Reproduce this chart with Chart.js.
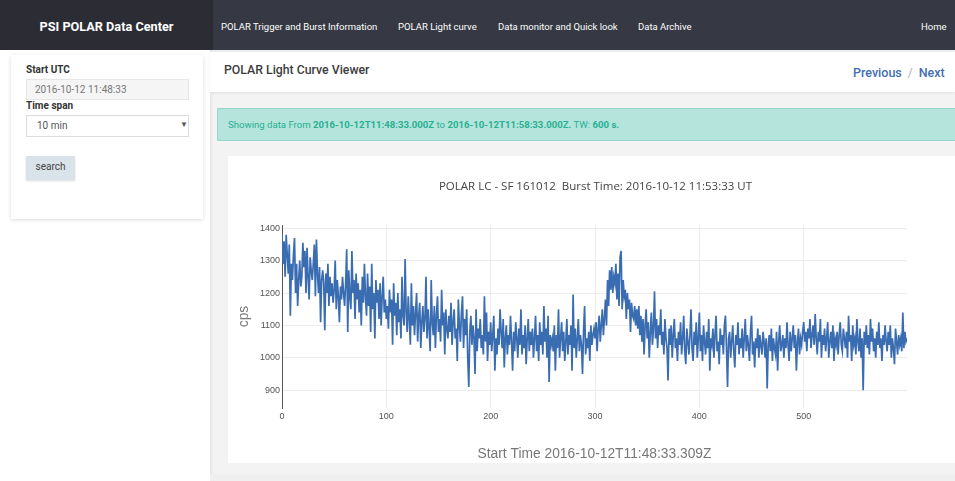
<!DOCTYPE html>
<html>
<head>
<meta charset="utf-8">
<script src="https://cdn.jsdelivr.net/npm/chart.js@4.4.1/dist/chart.umd.min.js"></script>
<style>
  html,body{margin:0;padding:0;}
  body{width:955px;height:481px;overflow:hidden;position:relative;background:#fff;font-family:Roboto,"Open Sans",sans-serif;}
  .abs{position:absolute;}
  #nav{left:0;top:0;width:955px;height:50px;background:#363943;}
  #brand{left:0;top:0;width:213px;height:50px;background:#2b2c34;color:#fff;font-weight:700;font-size:12.7px;line-height:53px;text-align:center;}
  .nl{top:0;line-height:54px;color:#fff;font-size:9.5px;white-space:nowrap;}
  #main{left:210px;top:50px;width:745px;height:431px;background:#f3f3f3;box-shadow:inset 2px 0 3px rgba(0,0,0,0.06);}
  #hdr{left:210px;top:52px;width:745px;height:40px;background:#fff;box-shadow:0 1px 3px rgba(0,0,0,0.08);}
  #hdrt{left:224px;top:63px;font-size:12.3px;color:#3c3c3c;font-weight:500;}
  #pn{left:853px;top:65px;font-size:12.5px;color:#3f6eb3;font-weight:500;white-space:nowrap;}
  #pn span{color:#bbb;margin:0 6px;}
  #alert{left:217px;top:108px;width:738px;height:33px;background:#b4e4dc;border:1px solid #94d6c9;box-sizing:border-box;border-right:none;border-radius:2px 0 0 2px;}
  #alertt{left:228px;top:119px;font-size:9.6px;color:#27b092;white-space:nowrap;}
  #alertt b{font-weight:700;}
  #card{left:228px;top:156px;width:727px;height:307px;background:#fff;}
  #side{left:11px;top:55px;width:192px;height:164px;background:#fff;box-shadow:0 1px 4px rgba(0,0,0,0.15);}
  .lbl{font-size:10px;font-weight:700;color:#333;}
  #inp{left:26px;top:79px;width:163px;height:21px;background:#f5f5f5;border:1px solid #e6e6e6;box-sizing:border-box;font-size:10px;color:#777;line-height:19px;padding-left:8px;}
  #sel{left:26px;top:115px;width:163px;height:22px;background:#fff;border:1px solid #ddd;box-sizing:border-box;font-size:10px;color:#555;line-height:20px;padding-left:10px;}
  #arr{left:180px;top:120px;font-size:8px;color:#555;}
  #btn{left:26px;top:156px;width:49px;height:24px;background:#d8e3ea;font-size:10px;color:#444;line-height:22px;text-align:center;box-shadow:0 1px 2px rgba(0,0,0,0.15);}
  #ctitle{left:228px;top:178px;width:735px;text-align:center;font-family:"Open Sans",sans-serif;font-size:11.5px;color:#444;white-space:pre;}
  #cv{left:228px;top:156px;}
  #bot{left:210px;top:474px;width:745px;height:7px;background:#f0f0f0;}
</style>
</head>
<body>
<div id="main" class="abs"></div>
<div id="nav" class="abs"></div>
<div id="brand" class="abs">PSI POLAR Data Center</div>
<div class="abs nl" style="left:221px">POLAR Trigger and Burst Information</div>
<div class="abs nl" style="left:398px">POLAR Light curve</div>
<div class="abs nl" style="left:498px">Data monitor and Quick look</div>
<div class="abs nl" style="left:638px">Data Archive</div>
<div class="abs nl" style="left:921px">Home</div>

<div id="side" class="abs"></div>
<div class="abs lbl" style="left:26px;top:64px">Start UTC</div>
<div id="inp" class="abs">2016-10-12 11:48:33</div>
<div class="abs lbl" style="left:26px;top:100px">Time span</div>
<div id="sel" class="abs">10 min</div>
<div id="arr" class="abs">&#9660;</div>
<div id="btn" class="abs">search</div>

<div id="hdr" class="abs"></div>
<div id="hdrt" class="abs">POLAR Light Curve Viewer</div>
<div id="pn" class="abs">Previous<span>/</span>Next</div>
<div id="alert" class="abs"></div>
<div id="alertt" class="abs">Showing data From <b>2016-10-12T11:48:33.000Z</b> to <b>2016-10-12T11:58:33.000Z.</b> TW: <b>600 s.</b></div>
<div id="card" class="abs"></div>
<div id="bot" class="abs"></div>
<canvas id="cv" class="abs" width="727" height="307"></canvas>
<div id="ctitle" class="abs">POLAR LC - SF 161012  Burst Time: 2016-10-12 11:53:33 UT</div>

<script>
// Light curve: counts per second, 1-s bins starting at t = 0
const BIN_SECONDS = 1;
const counts = [
1380,1290,1360,1250,1380,1320,1260,1350,1130,1290,1240,1320,1370,1200,1290,1160,1240,1300,1220,1250,
1355,1280,1330,1200,1340,1250,1180,1310,1270,1240,1290,1350,1190,1365,1260,1200,1280,1110,1240,1270,
1230,1085,1260,1200,1290,1160,1250,1190,1230,1170,1210,1300,1150,1240,1190,1110,1220,1180,1250,1200,
1160,1230,1335,1080,1270,1190,1150,1330,1200,1240,1120,1260,1180,1230,1140,1210,1100,1250,1170,1290,
1190,1130,1260,1160,1220,1080,1290,1150,1200,1060,1240,1170,1210,1120,1230,1100,1190,1250,1140,1180,
1120,1160,1090,1210,1140,1180,1040,1230,1130,1170,1070,1200,1110,1150,1060,1250,1130,1100,1305,1140,
1080,1190,1120,1040,1230,1100,1160,1070,1140,1200,1050,1130,1170,1030,1110,1160,1080,1120,1250,1060,
1150,1090,1020,1240,1110,1070,1160,1030,1130,1190,1080,1120,1050,1210,1100,1140,1010,1150,1090,1060,
1130,1080,1170,1040,1110,1150,1060,1090,990,1180,1100,1050,1140,1190,1030,1120,1070,1150,1000,910,
1080,1130,1040,1100,1060,950,1150,1020,1090,1060,1120,1030,1070,1010,1190,1050,1140,990,1080,1040,
1110,1020,1070,1130,960,1060,1010,1090,1040,1150,1080,1030,1120,970,1060,1100,1010,1070,1040,1130,
1050,960,1080,1020,1110,1060,1000,1090,1040,1150,1010,1070,1030,1100,980,1060,1120,1020,1080,1040,
1090,1000,1060,1130,1020,1070,990,1110,1040,1080,1010,1160,1050,1090,1000,1130,925,1070,1040,1060,
1020,1100,960,1070,1030,1150,1000,1060,1110,1020,1080,990,1050,1120,1010,1070,1040,1100,960,1195,
1030,1090,1000,1060,1120,1020,1070,1040,950,1080,1160,1010,1060,1030,1080,990,1100,1040,1070,1090,
1060,1110,1020,1090,1130,1050,1100,1150,1070,1120,1180,1100,1240,1160,1270,1210,1280,1200,1250,1230,
1290,1180,1260,1160,1310,1330,1150,1240,1190,1210,1120,1200,1150,1180,1080,1170,1130,1120,1160,1100,
1150,1090,1160,1070,1130,1050,1120,1010,1100,1150,1060,1110,1000,1080,1140,1040,1090,1205,1060,1120,
1030,1100,1070,1150,1040,1080,1010,1120,1060,1030,930,1090,1040,1100,1000,1070,1120,1030,1060,990,
1080,1040,1110,1010,1060,1130,1020,980,1090,1050,1010,1070,1150,1030,990,1080,1040,1110,1000,1060,
1140,1020,1070,990,1100,1050,1010,1080,1030,1120,960,1060,1040,1090,1000,1070,1130,1020,1050,980,
1090,1040,1070,1010,1100,1130,1030,910,1060,1080,1000,1050,1100,1020,970,1070,1040,1110,1010,1060,
1030,1090,1000,1060,1120,1020,1070,1040,990,1080,1130,1010,1050,970,1060,1030,1090,1000,1070,1040,
1010,1080,1050,1000,1060,905,1040,1070,1020,1090,990,1060,1030,1010,1080,960,1050,1100,1020,1040,
1070,1000,1060,1030,1110,1040,990,1080,1020,1060,1100,1030,1070,960,1050,1090,1010,1060,1040,1080,
1110,1050,1080,1020,1090,1060,1120,1030,1070,1100,1040,1135,1060,1010,1080,1050,1120,1000,1070,1040,
1090,1020,1060,1110,1000,1050,1080,1030,1100,990,1060,1040,1080,1010,1070,1110,1040,1020,1090,1060,
1030,1080,1000,1130,1050,1070,990,1100,1040,1060,1010,1120,1050,1020,1090,1000,1060,900,1080,1040,
1100,1030,1070,1010,1120,1050,1090,1020,1060,1000,1080,1040,1110,1030,1060,990,1070,1040,1100,1050,
1020,1080,1040,1100,1000,1060,1030,980,1090,1050,1010,1070,1040,1060,1020,1140,1030,1080,1050,1060
];
const xTickValues = [0, 100, 200, 300, 400, 500];
const yTickValues = [900, 1000, 1100, 1200, 1300, 1400];
const xTitle = 'Start Time 2016-10-12T11:48:33.309Z';
const yTitle = 'cps';

const points = counts.map((c, i) => ({x: i * BIN_SECONDS, y: c}));
const tickFont = { family: '"Liberation Sans Narrow","Liberation Sans",sans-serif', size: 9 };
const titleFont = { family: '"Liberation Sans Narrow","Liberation Sans",sans-serif', size: 13.8 };

new Chart(document.getElementById('cv'), {
  type: 'line',
  data: { datasets: [{ data: points, borderColor: '#3a6cb2', borderWidth: 1.7, pointRadius: 0, tension: 0, fill: false }] },
  options: {
    responsive: false, animation: false, devicePixelRatio: 1,
    layout: { padding: { top: 69, right: 48, left: 0, bottom: 0 } },
    plugins: { legend: { display: false }, tooltip: { enabled: false } },
    scales: {
      x: {
        type: 'linear', min: 0, max: (counts.length - 1) * BIN_SECONDS,
        afterBuildTicks: s => { s.ticks = xTickValues.map(v => ({ value: v })); },
        afterFit: s => { s.height = 55; },
        grid: { color: '#ececec', drawTicks: false },
        border: { display: false },
        ticks: { padding: 3, color: '#555', font: tickFont, maxRotation: 0, autoSkip: false, callback: v => String(v) },
        title: { display: true, text: xTitle, color: '#777', padding: { top: 0, bottom: 1 }, font: titleFont }
      },
      y: {
        min: 845, max: 1410,
        afterBuildTicks: s => { s.ticks = yTickValues.map(v => ({ value: v })); },
        afterFit: s => { s.width = 54; },
        grid: { color: '#ececec', drawTicks: false },
        border: { display: true, color: '#555', width: 1 },
        ticks: { padding: 2, color: '#555', font: tickFont, autoSkip: false, callback: v => String(v) },
        title: { display: true, text: yTitle, color: '#777', padding: { top: 8, bottom: 0 }, font: titleFont }
      }
    }
  }
});
</script>
</body>
</html>
